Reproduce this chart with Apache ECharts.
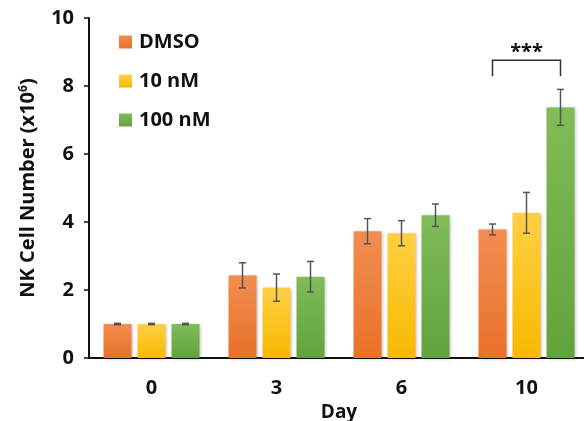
<!DOCTYPE html>
<html>
<head>
<meta charset="utf-8">
<script src="https://cdn.jsdelivr.net/npm/echarts@6/dist/echarts.min.js"></script>
<style>
  html, body { margin: 0; padding: 0; background: #fff; }
  #main { width: 584px; height: 421px; }
</style>
</head>
<body>
<div id="main"></div>
<script>
// data
const days = ['0', '3', '6', '10'];
const seriesNames = ['DMSO', '10 nM', '100 nM'];
const dmso = [1.0, 2.43, 3.73, 3.78];
const dmsoErr = [0.02, 0.37, 0.37, 0.16];
const nm10 = [1.0, 2.07, 3.67, 4.27];
const nm10Err = [0.02, 0.40, 0.37, 0.60];
const nm100 = [1.0, 2.39, 4.20, 7.37];
const nm100Err = [0.02, 0.45, 0.33, 0.53];
// significance bracket: day 10, DMSO vs 100 nM
const sigDay = 3;
const sigPair = [0, 2];
const sigTop = 8.76;
const sigFoot = 8.29;
const sigText = '***';

const FONT = '"Open Sans", sans-serif';
const BAR_W = 28;
const BAR_GAP = 6;
const colors = [
  ['#F28D50', '#E8712A'],
  ['#FFCF45', '#F7B900'],
  ['#80BC57', '#62A23D']
];

const values = [dmso, nm10, nm100];
const errs = [dmsoErr, nm10Err, nm100Err];

function barOffset(s) {
  return (s - 1) * (BAR_W + BAR_GAP);
}

const chart = echarts.init(document.getElementById('main'));

const barSeries = values.map(function (v, s) {
  return {
    name: seriesNames[s],
    type: 'bar',
    data: v,
    barWidth: BAR_W,
    barGap: (BAR_GAP / BAR_W * 100) + '%',
    itemStyle: {
      color: new echarts.graphic.LinearGradient(0, 0, 0, 1, [
        { offset: 0, color: colors[s][0] },
        { offset: 1, color: colors[s][1] }
      ]),
      shadowBlur: 3,
      shadowOffsetX: 1,
      shadowOffsetY: 1,
      shadowColor: 'rgba(0,0,0,0.25)'
    },
    emphasis: { disabled: true },
    z: 2
  };
});

const errSeries = values.map(function (v, s) {
  return {
    type: 'custom',
    name: seriesNames[s] + ' err',
    data: v.map(function (val, i) { return [i, val, errs[s][i]]; }),
    renderItem: function (params, api) {
      const idx = api.value(0);
      const val = api.value(1);
      const e = api.value(2);
      const hi = api.coord([idx, val + e]);
      const lo = api.coord([idx, val - e]);
      const x = hi[0] + barOffset(s);
      const cap = 3.5;
      const style = { stroke: '#555', lineWidth: 1.5 };
      return {
        type: 'group',
        children: [
          { type: 'line', shape: { x1: x, y1: hi[1], x2: x, y2: lo[1] }, style: style },
          { type: 'line', shape: { x1: x - cap, y1: hi[1], x2: x + cap, y2: hi[1] }, style: style },
          { type: 'line', shape: { x1: x - cap, y1: lo[1], x2: x + cap, y2: lo[1] }, style: style }
        ]
      };
    },
    z: 5,
    silent: true
  };
});

const sigSeries = {
  type: 'custom',
  data: [[sigDay, sigTop, sigFoot]],
  renderItem: function (params, api) {
    const top = api.coord([api.value(0), api.value(1)]);
    const foot = api.coord([api.value(0), api.value(2)]);
    const x1 = top[0] + barOffset(sigPair[0]);
    const x2 = top[0] + barOffset(sigPair[1]);
    return {
      type: 'group',
      children: [
        {
          type: 'polyline',
          shape: { points: [[x1, foot[1]], [x1, top[1]], [x2, top[1]], [x2, foot[1]]] },
          style: { stroke: '#333', lineWidth: 1.5, fill: null }
        },
        {
          type: 'text',
          style: {
            text: sigText, x: (x1 + x2) / 2, y: top[1] - 8,
            align: 'center', verticalAlign: 'middle',
            font: 'bold 20px ' + FONT, fill: '#111'
          }
        }
      ]
    };
  },
  silent: true,
  z: 5
};

const option = {
  animation: false,
  grid: { left: 89, top: 18, width: 500, bottom: 63, outerBoundsMode: 'none', containLabel: false },
  legend: {
    data: seriesNames,
    orient: 'vertical',
    left: 119,
    top: 32,
    padding: 0,
    icon: 'rect',
    itemWidth: 13,
    itemHeight: 13,
    itemGap: 19,
    textStyle: { fontFamily: FONT, fontWeight: 'bold', fontSize: 20, color: '#111', padding: [0, 0, 0, 2] }
  },
  xAxis: {
    type: 'category',
    data: days,
    name: 'Day',
    nameLocation: 'middle',
    nameGap: 43,
    nameTextStyle: { fontFamily: FONT, fontWeight: 'bold', fontSize: 19, color: '#111' },
    axisLine: { lineStyle: { color: '#111', width: 2 } },
    axisTick: { show: false },
    axisLabel: { fontFamily: FONT, fontWeight: 'bold', fontSize: 20, color: '#111', margin: 20 }
  },
  yAxis: {
    type: 'value',
    min: 0,
    max: 10,
    interval: 2,
    name: 'NK Cell Number (x10{sup|6})',
    nameLocation: 'middle',
    nameGap: 50,
    nameTextStyle: {
      fontFamily: FONT, fontWeight: 'bold', fontSize: 20, color: '#111',
      rich: { sup: { fontFamily: FONT, fontWeight: 'bold', fontSize: 12, color: '#111', verticalAlign: 'top', padding: [0, 0, 9, 0] } }
    },
    splitLine: { show: false },
    axisLine: { show: true, lineStyle: { color: '#111', width: 2 } },
    axisTick: { show: true, length: 5, lineStyle: { color: '#111', width: 1.5 } },
    axisLabel: { fontFamily: FONT, fontWeight: 'bold', fontSize: 20, color: '#111', margin: 15 }
  },
  series: barSeries.concat(errSeries, [sigSeries])
};

chart.setOption(option);
</script>
</body>
</html>
